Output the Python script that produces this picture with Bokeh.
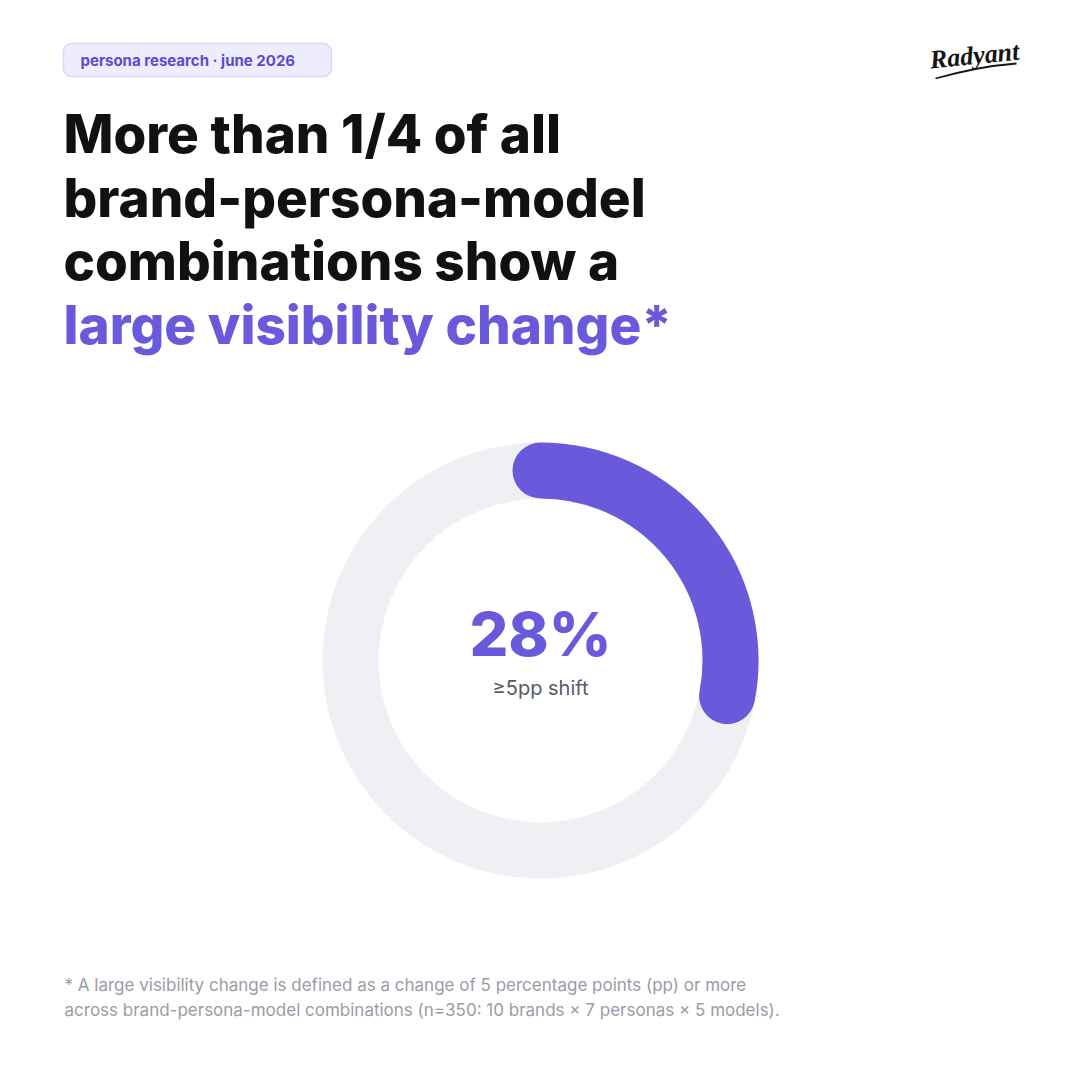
from math import pi

from bokeh.core.properties import value
from bokeh.embed import file_html
from bokeh.models import Range1d
from bokeh.plotting import figure
from bokeh.resources import INLINE

# data
share = 0.28
big_label = "28%"
sub_label = "\u22655pp shift"
badge_text = "persona research \u00b7 june 2026"
title_lines = ["More than 1/4 of all", "brand-persona-model", "combinations show a"]
title_accent = "large visibility change*"
footnote_lines = [
    "* A large visibility change is defined as a change of 5 percentage points (pp) or more",
    "across brand-persona-model combinations (n=350: 10 brands \u00d7 7 personas \u00d7 5 models).",
]
logo_text = "Radyant"

PURPLE = "#6A5ADB"
INK = "#111113"
FONT = value("Inter")
HEAVY = value("'Inter ExtraBold', Inter")

# y axis runs upwards, so screen y from the reference maps to 1080 - y
def Y(sy):
    return 1080 - sy

p = figure(width=1064, height=1064, output_backend="svg", toolbar_location=None,
           x_range=Range1d(0, 1064), y_range=Range1d(16, 1080), min_border=0)
p.axis.visible = False
p.grid.visible = False
p.outline_line_color = None
p.background_fill_color = "white"
p.border_fill_color = "white"

# badge
p.quad(left=[63], right=[331], bottom=[Y(76)], top=[Y(43)], fill_color="#EFEDFD",
       line_color="#DCD7FA", line_width=1.5, border_radius=8)
p.text(x=[80], y=[Y(60)], text=[badge_text], text_font=FONT, text_font_style="bold",
       text_font_size="15px", text_color="#5A4CD0", text_baseline="middle")

# logo
p.text(x=[974], y=[Y(55)], text=[logo_text], text_font=value("Liberation Serif"),
       text_font_style="bold italic", text_font_size="26px", text_color="#161616",
       text_align="center", text_baseline="alphabetic", angle=0.1)
p.bezier(x0=[935], y0=[Y(78)], x1=[1016], y1=[Y(63)], cx0=[960], cy0=[Y(71)],
         cx1=[990], cy1=[Y(65)], line_color="#161616", line_width=1.8)

# title
baselines = [133, 197, 260, 324]
for line, b in zip(title_lines, baselines):
    p.text(x=[63], y=[Y(b)], text=[line], text_font=HEAVY, text_font_style="bold",
           text_font_size="53px", text_color=INK, text_baseline="alphabetic")
p.text(x=[63], y=[Y(baselines[3])], text=[title_accent], text_font=HEAVY,
       text_font_style="bold", text_font_size="53px", text_color=PURPLE,
       text_baseline="alphabetic")

# donut
cx, cy = 540, Y(660)
p.annulus(x=[cx], y=[cy], inner_radius=162, outer_radius=218, fill_color="#F0F0F4",
          line_color=None)
p.arc(x=[cx], y=[cy], radius=190, start_angle=pi / 2, end_angle=pi / 2 - share * 2 * pi,
      direction="clock", line_color=PURPLE, line_width=56, line_cap="round")

p.text(x=[cx], y=[Y(633)], text=[big_label], text_font=HEAVY, text_font_style="bold",
       text_font_size="61px", text_color=PURPLE, text_align="center",
       text_baseline="alphabetic")
p.text(x=[cx], y=[Y(687)], text=[sub_label], text_font=FONT, text_font_size="20px",
       text_color="#565B68", text_align="center", text_baseline="alphabetic")

# footnote
for line, b in zip(footnote_lines, [984, 1009]):
    p.text(x=[64], y=[Y(b)], text=[line], text_font=FONT, text_font_size="17px",
           text_color="#9A9BA8", text_baseline="alphabetic")

open("out.html", "w").write(file_html(p, INLINE))
